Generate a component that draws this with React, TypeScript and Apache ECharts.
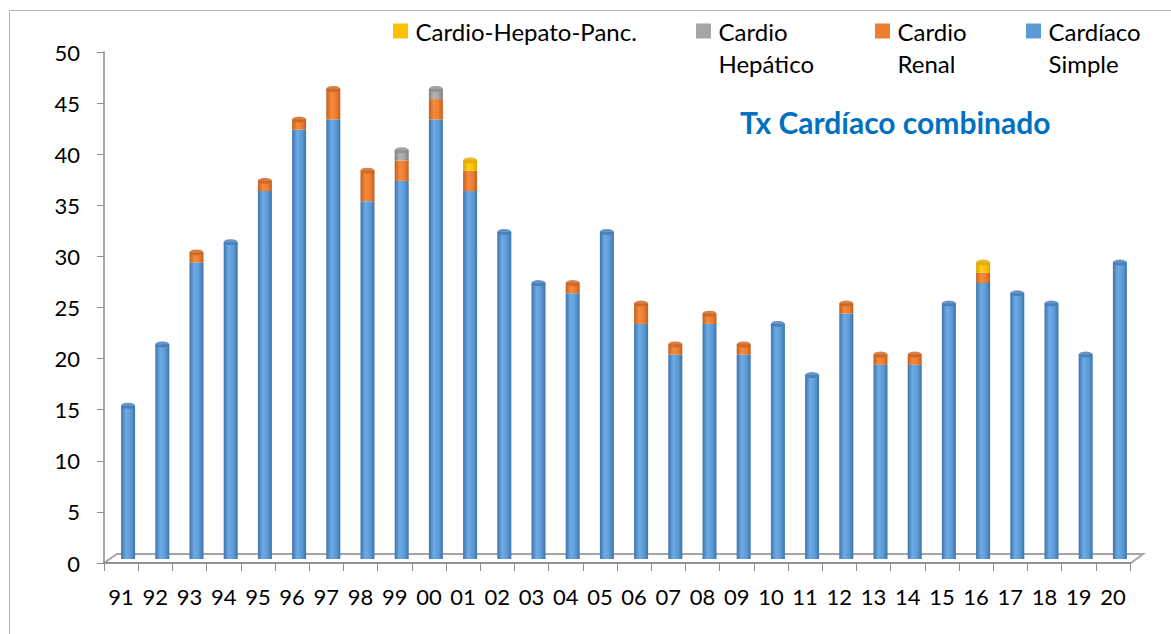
import React, { useEffect, useRef } from "react";
import * as echarts from "echarts";

const categories = ["91","92","93","94","95","96","97","98","99","00","01","02","03","04","05","06","07","08","09","10","11","12","13","14","15","16","17","18","19","20"];
const cardiacoSimple = [15,21,29,31,36,42,43,35,37,43,36,32,27,26,32,23,20,23,20,23,18,24,19,19,25,27,26,25,20,29];
const cardioRenal = [0,0,1,0,1,1,3,3,2,2,2,0,0,1,0,2,1,1,1,0,0,1,1,1,0,1,0,0,0,0];
const cardioHepatico = [0,0,0,0,0,0,0,0,1,1,0,0,0,0,0,0,0,0,0,0,0,0,0,0,0,0,0,0,0,0];
const cardioHepatoPanc = [0,0,0,0,0,0,0,0,0,0,1,0,0,0,0,0,0,0,0,0,0,0,0,0,0,1,0,0,0,0];
const yTicks = { min: 0, max: 50, interval: 5 };

const NAMES = {
  simple: "Cardíaco Simple",
  renal: "Cardio Renal",
  hep: "Cardio Hepático",
  panc: "Cardio-Hepato-Panc.",
};
const LABELS: Record<string, string> = {
  [NAMES.simple]: "\nCardíaco\nSimple",
  [NAMES.renal]: "\nCardio\nRenal",
  [NAMES.hep]: "\nCardio\nHepático",
  [NAMES.panc]: "Cardio-Hepato-Panc.",
};
const COLORS: Record<string, string> = {
  [NAMES.simple]: "#5B9BD5",
  [NAMES.renal]: "#ED7D31",
  [NAMES.hep]: "#A5A5A5",
  [NAMES.panc]: "#FFC000",
};

const FONT = "Lato, 'Liberation Sans', sans-serif";

const cyl = (edge: string, mid: string, light: string) =>
  new echarts.graphic.LinearGradient(0, 0, 1, 0, [
    { offset: 0, color: edge },
    { offset: 0.35, color: light },
    { offset: 0.7, color: mid },
    { offset: 1, color: edge },
  ]);

export default function App() {
  const ref = useRef<HTMLDivElement>(null);
  useEffect(() => {
    if (!ref.current) return;
    const chart = echarts.init(ref.current, undefined, { renderer: "svg" });

    const totals = categories.map((_, i) => cardiacoSimple[i] + cardioRenal[i] + cardioHepatico[i] + cardioHepatoPanc[i]);
    const capColor = categories.map((_, i) =>
      cardioHepatoPanc[i] > 0 ? "#e0a800" : cardioHepatico[i] > 0 ? "#8c8c8c" : cardioRenal[i] > 0 ? "#c9621f" : "#4479b4"
    );

    const legendItem = (name: string, left: number, top: number) => ({
      data: [{ name, icon: "path://M0,0H12V12H0Z", itemStyle: { color: COLORS[name] } }],
      left,
      top,
      padding: 0,
      itemWidth: 20,
      itemHeight: 15,
      itemStyle: { borderWidth: 0 },
      selectedMode: false,
      formatter: (n: string) => LABELS[n],
      textStyle: { fontSize: 24, color: "#000", fontFamily: FONT, lineHeight: 32 },
    });

    const barCommon = {
      type: "bar",
      stack: "total",
      xAxisIndex: 1,
      yAxisIndex: 1,
      barWidth: 14,
    };

    chart.setOption({
      animation: false,
      backgroundColor: "#fff",
      title: {
        text: "Tx Cardíaco combinado",
        left: 740,
        top: 107,
        padding: 0,
        textStyle: { fontSize: 30, fontWeight: "bold", color: "#0070C0", fontFamily: FONT },
      },
      legend: [
        legendItem(NAMES.panc, 393, 15),
        legendItem(NAMES.hep, 696, -17),
        legendItem(NAMES.renal, 875, -17),
        legendItem(NAMES.simple, 1026, -17),
      ],
      grid: [
        { left: 104, right: 41, top: 52, bottom: 71 },
        { left: 111, right: 34, top: 48, bottom: 75 },
      ],
      xAxis: [
        {
          type: "category",
          gridIndex: 0,
          data: categories,
          axisLine: { lineStyle: { color: "#8c8c8c", width: 1.5 } },
          axisTick: { show: true, length: 8, interval: 0, lineStyle: { color: "#8c8c8c" } },
          axisLabel: { interval: 0, fontSize: 22, color: "#000", margin: 22, fontFamily: FONT },
        },
        { type: "category", gridIndex: 1, data: categories, show: false },
      ],
      yAxis: [
        {
          type: "value",
          gridIndex: 0,
          ...yTicks,
          splitLine: { show: false },
          axisLine: { show: true, lineStyle: { color: "#8c8c8c", width: 1.5 } },
          axisTick: { show: true, length: 7, inside: false, lineStyle: { color: "#8c8c8c" } },
          axisLabel: { fontSize: 22, color: "#000", margin: 24, fontFamily: FONT },
        },
        { type: "value", gridIndex: 1, ...yTicks, show: false, splitLine: { show: false } },
      ],
      graphic: [
        {
          type: "rect",
          shape: { x: 9.5, y: 10.5, width: 1400, height: 800 },
          style: { fill: "none", stroke: "#b3b3b3", lineWidth: 1 },
          silent: true,
          z: 0,
        },
        {
          type: "polygon",
          shape: { points: [[104, 563], [117, 554], [1143, 554], [1131, 563]] },
          style: { fill: "#ffffff", stroke: "#a6a6a6", lineWidth: 2 },
          silent: true,
          z: 0,
        },
      ],
      series: [
        { ...barCommon, name: NAMES.simple, data: cardiacoSimple, itemStyle: { color: cyl("#3f72ab", "#5B9BD5", "#6cabe6") } },
        { ...barCommon, name: NAMES.renal, data: cardioRenal, itemStyle: { color: cyl("#c0601c", "#ED7D31", "#f58a3e") } },
        { ...barCommon, name: NAMES.hep, data: cardioHepatico, itemStyle: { color: cyl("#7f7f7f", "#A5A5A5", "#b5b5b5") } },
        { ...barCommon, name: NAMES.panc, data: cardioHepatoPanc, itemStyle: { color: cyl("#d9a300", "#FFC000", "#ffcd1f") } },
        {
          type: "scatter",
          name: "cap",
          xAxisIndex: 1,
          yAxisIndex: 1,
          symbol: "circle",
          symbolSize: [14, 6],
          data: totals.map((v, i) => ({ value: v, itemStyle: { color: capColor[i] } })),
          z: 5,
          silent: true,
        },
      ],
    });
    return () => chart.dispose();
  }, []);
  return <div ref={ref} style={{ position: "fixed", left: 0, top: 0, width: 1171, height: 634 }} />;
}
